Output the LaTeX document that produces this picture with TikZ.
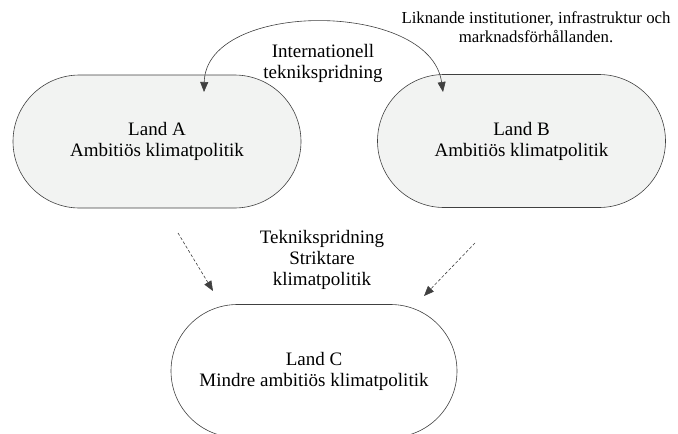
\documentclass[tikz,border=0pt]{standalone}
\usepackage{fontspec}
\setmainfont{Liberation Serif}
\usetikzlibrary{arrows.meta,shapes.misc}
\definecolor{linec}{HTML}{404040}
\definecolor{fillc}{HTML}{F2F3F2}
\tikzset{
  land/.style={rounded rectangle, draw=linec, line width=0.6pt, minimum width=288pt, minimum height=133pt, inner sep=0pt, align=center, font=\fontsize{19}{21}\selectfont},
  lbl/.style={align=center, inner sep=0pt, font=\fontsize{19}{21}\selectfont},
  small/.style={align=center, inner sep=0pt, font=\fontsize{16.8}{18.5}\selectfont},
  conn/.style={draw=linec, line width=0.6pt, -{Triangle[length=10pt,width=8pt]}, color=linec},
}
\begin{document}
\begin{tikzpicture}[x=1pt,y=-1pt]
\useasboundingbox (0,0) rectangle (678,434);
\clip (0,0) rectangle (678,434);
\node[land, fill=fillc] (A) at (157,141.5) {Land A\\Ambitiös klimatpolitik};
\node[land, fill=fillc] (B) at (521.5,141) {Land B\\Ambitiös klimatpolitik};
\node[land, fill=white, minimum width=286pt] (C) at (314,371) {Land C\\Mindre ambitiös klimatpolitik};
\node[lbl] (intl) at (323,63) {Internationell\\teknikspridning};
\node[small] (likn) at (536,27) {Liknande institutioner, infrastruktur och\\marknadsförhållanden.};
\node[lbl] (tek) at (322,260) {Teknikspridning\\Striktare\\klimatpolitik};
\coordinate (a1) at (204,92);
\coordinate (b1) at (443,92);
\draw[conn, {Triangle[length=10pt,width=8pt]}-{Triangle[length=10pt,width=8pt]}] (a1) .. controls (206,0) and (430,0) .. (b1);
\coordinate (d1s) at (178,233);
\coordinate (d1e) at (213,291);
\coordinate (d2s) at (475,243);
\coordinate (d2e) at (424,296);
\draw[conn, densely dashed] (d1s) -- (d1e);
\draw[conn, densely dashed] (d2s) -- (d2e);
\end{tikzpicture}
\end{document}
